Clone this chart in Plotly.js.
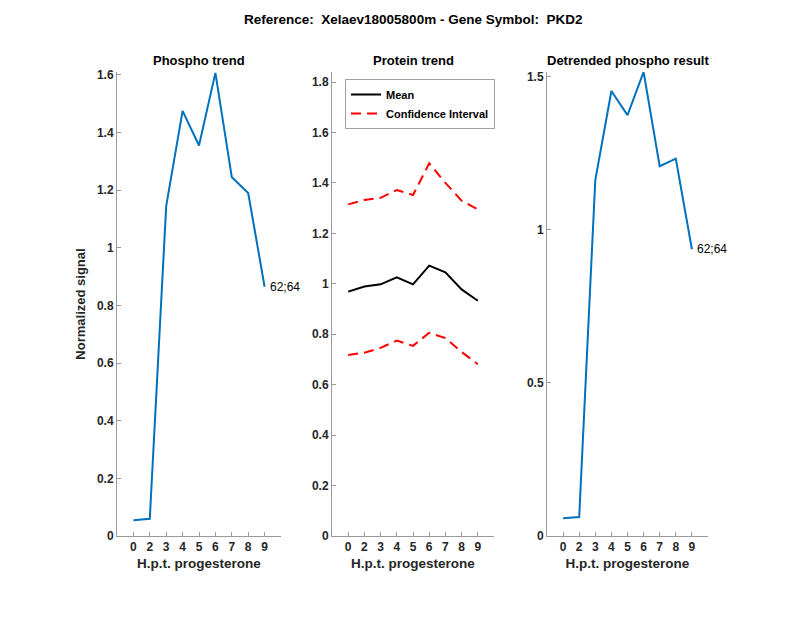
<!DOCTYPE html>
<html>
<head>
<meta charset="utf-8">
<script src="https://cdn.plot.ly/plotly-3.0.1.min.js"></script>
<style>html,body{margin:0;padding:0;background:#fff;}#chart{width:800px;height:618px;}</style>
</head>
<body>
<div id="chart"></div>
<script>
// ---- data ----
const timeLabels = ['0', '2', '3', '4', '5', '6', '7', '8', '9'];
const phosphoTrend = [0.055, 0.060, 1.145, 1.475, 1.355, 1.607, 1.245, 1.190, 0.865];
const proteinMean = [0.969, 0.989, 0.998, 1.026, 0.998, 1.072, 1.046, 0.978, 0.933];
const proteinUpper = [1.315, 1.332, 1.341, 1.372, 1.352, 1.478, 1.400, 1.330, 1.295];
const proteinLower = [0.718, 0.727, 0.746, 0.775, 0.754, 0.806, 0.785, 0.730, 0.681];
const detrended = [0.058, 0.062, 1.163, 1.454, 1.375, 1.516, 1.208, 1.233, 0.937];
const peptideLabel = '62;64';
const mainTitle = 'Reference:\u00A0 Xelaev18005800m - Gene Symbol:\u00A0 PKD2';

const xPos = timeLabels.map((_, i) => i + 1);

const W = 800, H = 618;
const px = v => v / W;
const py = v => (H - v) / H;
const yDom = [py(536), py(72)];
const doms = [[117, 281], [332, 494], [547, 708]];

const FONT = 'Liberation Sans, Arial, Helvetica, sans-serif';
const tickFont = {family: FONT, size: 12, color: '#262626', weight: 'bold'};
const axisCol = '#9a9a9a';

function xaxis(i) {
  return {
    domain: [px(doms[i][0]), px(doms[i][1])],
    range: [0, 10],
    tickvals: xPos,
    ticktext: timeLabels,
    ticks: 'inside', ticklen: 4, tickcolor: axisCol,
    showline: true, linecolor: axisCol, linewidth: 1,
    showgrid: false, zeroline: false,
    tickfont: tickFont,
    anchor: i === 0 ? 'y' : 'y' + (i + 1),
    title: {text: 'H.p.t. progesterone', font: {family: FONT, size: 13.5, color: '#262626', weight: 'bold'}, standoff: 5},
    fixedrange: true
  };
}
function yaxis(i, range, dtick) {
  return {
    domain: yDom,
    range: range,
    dtick: dtick, tick0: 0,
    ticks: 'inside', ticklen: 4, tickcolor: axisCol,
    showline: true, linecolor: axisCol, linewidth: 1,
    showgrid: false, zeroline: false,
    tickfont: tickFont,
    anchor: i === 0 ? 'x' : 'x' + (i + 1),
    fixedrange: true
  };
}

const blue = '#0072BD';
const traces = [
  {x: xPos, y: phosphoTrend, type: 'scatter', mode: 'lines', line: {color: blue, width: 2}, xaxis: 'x', yaxis: 'y', showlegend: false},
  {x: xPos, y: proteinMean, type: 'scatter', mode: 'lines', name: 'Mean', line: {color: '#000000', width: 2}, xaxis: 'x2', yaxis: 'y2', showlegend: true},
  {x: xPos, y: proteinUpper, type: 'scatter', mode: 'lines', name: 'Confidence Interval', line: {color: '#ff0000', width: 2, dash: '10px,6px'}, xaxis: 'x2', yaxis: 'y2', showlegend: true},
  {x: xPos, y: proteinLower, type: 'scatter', mode: 'lines', name: 'Confidence Interval', line: {color: '#ff0000', width: 2, dash: '10px,6px'}, xaxis: 'x2', yaxis: 'y2', showlegend: false},
  {x: xPos, y: detrended, type: 'scatter', mode: 'lines', line: {color: blue, width: 2}, xaxis: 'x3', yaxis: 'y3', showlegend: false}
];

const subFont = {family: FONT, size: 13, color: '#000000', weight: 'bold'};
const mainFont = {family: FONT, size: 13.5, color: '#000000', weight: 'bold'};
const subTitles = ['Phospho trend', 'Protein trend', 'Detrended phospho result'];
const annotations = subTitles.map((t, i) => ({
  text: t, showarrow: false, xref: 'paper', yref: 'paper',
  x: px((doms[i][0] + doms[i][1]) / 2), y: py(61), xanchor: 'center', yanchor: 'middle',
  font: subFont
}));
annotations.push({
  text: mainTitle, showarrow: false, xref: 'paper', yref: 'paper',
  x: px(413), y: py(19), xanchor: 'center', yanchor: 'middle', font: mainFont
});
annotations.push({
  text: peptideLabel, showarrow: false, xref: 'x', yref: 'y',
  x: xPos[xPos.length - 1], y: phosphoTrend[phosphoTrend.length - 1],
  xanchor: 'left', yanchor: 'middle', xshift: 3,
  font: {family: FONT, size: 12, color: '#000000'}
});
annotations.push({
  text: peptideLabel, showarrow: false, xref: 'x3', yref: 'y3',
  x: xPos[xPos.length - 1], y: detrended[detrended.length - 1],
  xanchor: 'left', yanchor: 'middle', xshift: 3,
  font: {family: FONT, size: 12, color: '#000000'}
});

const layout = {
  width: W, height: H,
  margin: {l: 0, r: 0, t: 0, b: 0},
  paper_bgcolor: '#ffffff', plot_bgcolor: '#ffffff',
  showlegend: true,
  legend: {
    x: px(345), y: py(79), xanchor: 'left', yanchor: 'top',
    bgcolor: '#ffffff', bordercolor: '#a0a0a0', borderwidth: 1,
    font: {family: FONT, size: 11, color: '#000000', weight: 'bold'},
    tracegroupgap: 0, itemwidth: 30, traceorder: 'normal'
  },
  xaxis: xaxis(0), xaxis2: xaxis(1), xaxis3: xaxis(2),
  yaxis: Object.assign(yaxis(0, [0, 1.61], 0.2), {
    title: {text: 'Normalized signal', font: {family: FONT, size: 13, color: '#262626', weight: 'bold'}, standoff: 8}
  }),
  yaxis2: yaxis(1, [0, 1.84], 0.2),
  yaxis3: yaxis(2, [0, 1.516], 0.5),
  annotations: annotations
};

Plotly.newPlot('chart', traces, layout, {displayModeBar: false, staticPlot: true});
</script>
</body>
</html>
